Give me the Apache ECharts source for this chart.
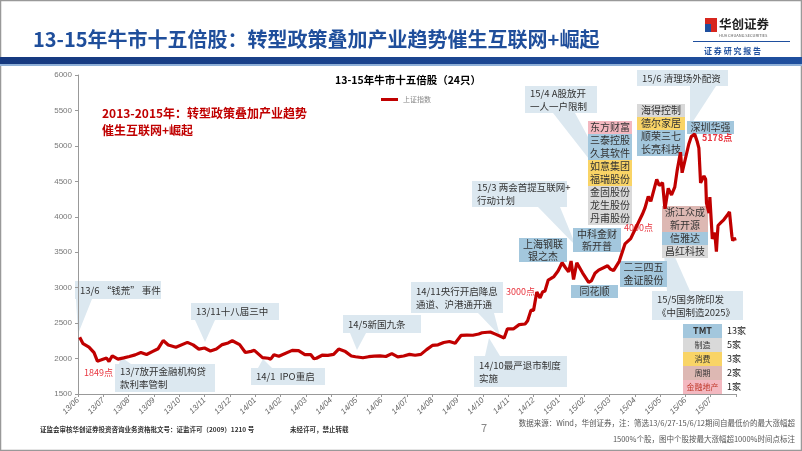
<!DOCTYPE html>
<html>
<head>
<meta charset="utf-8">
<script src="https://cdn.jsdelivr.net/npm/echarts@6/dist/echarts.min.js"></script>
<style>
html, body { margin: 0; padding: 0; background: #fff; }
#main { width: 802px; height: 451px; }
</style>
</head>
<body>
<div id="main"></div>
<script>
// 上证指数（读自原图，约为周度）
const dates = [
  '2013-06-03','2013-06-07','2013-06-14','2013-06-20','2013-06-24','2013-06-25','2013-06-28',
  '2013-07-05','2013-07-08','2013-07-12','2013-07-19','2013-07-26','2013-08-02','2013-08-09',
  '2013-08-16','2013-08-23','2013-08-30','2013-09-06','2013-09-12','2013-09-18','2013-09-27',
  '2013-10-11','2013-10-18','2013-10-25','2013-11-01','2013-11-08','2013-11-15','2013-11-22',
  '2013-11-29','2013-12-04','2013-12-13','2013-12-20','2013-12-27','2013-12-31',
  '2014-01-10','2014-01-17','2014-01-20','2014-01-24','2014-01-30','2014-02-14','2014-02-21',
  '2014-02-28','2014-03-07','2014-03-11','2014-03-14','2014-03-21','2014-03-28','2014-04-04',
  '2014-04-10','2014-04-18','2014-04-25','2014-04-30','2014-05-09','2014-05-16','2014-05-23',
  '2014-05-30','2014-06-06','2014-06-13','2014-06-20','2014-06-27','2014-07-04','2014-07-11',
  '2014-07-18','2014-07-25','2014-08-01','2014-08-08','2014-08-15','2014-08-22','2014-08-29',
  '2014-09-05','2014-09-12','2014-09-19','2014-09-26','2014-09-30','2014-10-10','2014-10-17',
  '2014-10-27','2014-10-31','2014-11-07','2014-11-14','2014-11-21','2014-11-24','2014-11-28',
  '2014-12-01','2014-12-05','2014-12-09','2014-12-12','2014-12-15','2014-12-19','2014-12-22',
  '2014-12-26','2014-12-31',
  '2015-01-05','2015-01-09','2015-01-13','2015-01-16','2015-01-19','2015-01-23','2015-01-30',
  '2015-02-06','2015-02-09','2015-02-13','2015-02-17','2015-02-27','2015-03-02','2015-03-06',
  '2015-03-13','2015-03-20','2015-03-27','2015-04-03','2015-04-10','2015-04-13','2015-04-17',
  '2015-04-20','2015-04-24','2015-04-27','2015-04-30','2015-05-04','2015-05-07','2015-05-11',
  '2015-05-15','2015-05-19','2015-05-22','2015-05-26','2015-05-28','2015-05-29','2015-06-05',
  '2015-06-08','2015-06-12','2015-06-15','2015-06-17','2015-06-19','2015-06-23','2015-06-25',
  '2015-06-26','2015-06-29','2015-06-30','2015-07-03','2015-07-06','2015-07-08','2015-07-09',
  '2015-07-10','2015-07-14','2015-07-17','2015-07-21','2015-07-24','2015-07-27','2015-07-28',
  '2015-07-30','2015-07-31'
];
const sseIndex = [
  2300,2210,2162,2084,1963,1959,1979,
  2007,1958,2039,1992,2010,2029,2052,
  2085,2057,2098,2139,2255,2191,2160,
  2228,2193,2133,2149,2106,2135,2197,
  2220,2251,2196,2085,2101,2116,
  2013,2004,1992,2054,2033,2115,2113,
  2056,2057,1997,2004,2047,2046,2058,
  2134,2098,2036,2026,2011,2026,2034,
  2039,2029,2070,2024,2036,2059,2046,
  2059,2126,2185,2194,2226,2240,2217,
  2326,2331,2329,2347,2364,2375,2341,
  2290,2420,2418,2478,2487,2532,2683,
  2680,2938,2856,2938,2953,3108,3128,
  3157,3235,
  3351,3285,3223,3376,3116,3351,3210,
  3076,3095,3203,3247,3310,3263,3241,
  3372,3617,3691,3863,4035,4121,4287,
  4217,4394,4527,4442,4480,4112,4401,
  4308,4418,4658,4911,4621,4612,5023,
  5131,5166,5062,4967,4478,4576,4529,
  4193,4053,4277,3687,3776,3507,3709,
  3877,3924,3957,4017,4070,3725,3663,
  3705,3664
];
const monthLabels = [
  '13/06','13/07','13/08','13/09','13/10','13/11','13/12',
  '14/01','14/02','14/03','14/04','14/05','14/06','14/07','14/08','14/09','14/10','14/11','14/12',
  '15/01','15/02','15/03','15/04','15/05','15/06','15/07'
];
const sectors = ['TMT', '制造', '消费', '周期', '金融地产'];
const sectorCounts = [13, 5, 3, 2, 1];

// 配色
const sectorColors = {
  'TMT': '#A3C7DD', '制造': '#D9D9D9', '消费': '#F9D466', '周期': '#DDB8B3', '金融地产': '#F3B8C0'
};
const FONT = 'Noto Sans CJK SC';
const CALLOUT = '#DCE8F0';

// 日期 -> 距 2013/06/01 的月数
function monthIndex(d) {
  const p = d.split('-').map(Number);
  const dim = new Date(p[0], p[1], 0).getDate();
  return (p[0] - 2013) * 12 + (p[1] - 6) + (p[2] - 1) / dim;
}

const g = [];
function txt(x, y, text, o) {
  g.push({
    type: 'text', x: x, y: y, z: (o && o.z) || 1,
    style: Object.assign({
      text: text, fill: '#333', fontSize: 10, fontFamily: FONT,
      align: 'left', verticalAlign: 'middle'
    }, o || {})
  });
}
function rect(x, y, w, h, fill, z) {
  g.push({ type: 'rect', z: z || 0, shape: { x: x, y: y, width: w, height: h }, style: { fill: fill } });
}
function tri(points) {
  g.push({ type: 'polygon', z: 0, shape: { points: points }, style: { fill: CALLOUT } });
}
function callout(x, y, w, h, text, pts) {
  if (pts) tri(pts);
  rect(x, y, w, h, CALLOUT);
  txt(x + 5, y + h / 2, text, { fontSize: 9.5, lineHeight: 13, fill: '#333' });
}
function stock(x, y, w, h, name, sector) {
  rect(x, y, w, h, sectorColors[sector], 1);
  txt(x + w / 2, y + h / 2, name, { align: 'center', fontSize: 10, fill: '#333', z: 2 });
}

// 边框、顶部标题栏
g.push({ type: 'rect', z: 0, shape: { x: 0.5, y: 0.5, width: 801, height: 450 },
  style: { fill: 'none', stroke: '#999', lineWidth: 1.5 } });
g.push({ type: 'rect', z: 0, shape: { x: 0, y: 57, width: 802, height: 7 },
  style: { fill: new echarts.graphic.LinearGradient(0, 0, 1, 0, [
    { offset: 0, color: '#16397f' }, { offset: 1, color: '#1f4f9e' }]) } });
rect(0, 64, 802, 2, '#8fb0d8');

// logo
rect(705, 18, 12, 14, '#d7261e');
g.push({ type: 'polygon', z: 1, shape: { points: [[705, 24], [711, 24], [711, 32], [705, 32]] }, style: { fill: '#1f4f9e' } });
txt(719, 24, '华创证券', { fontSize: 12.5, fontWeight: 'bold', fill: '#222' });
txt(719, 35, 'HUA CHUANG SECURITIES', { fontSize: 4, fill: '#555' });
rect(693, 41, 97, 1, '#1f4f9e');
txt(704, 51, '证 券 研 究 报 告', { fontSize: 8, fontWeight: 'bold', fill: '#1f4f9e' });

// 红色说明文字
txt(102, 113, '2013-2015年：转型政策叠加产业趋势', { fontSize: 12, fontWeight: 'bold', fill: '#C00000' });
txt(102, 130, '催生互联网+崛起', { fontSize: 12, fontWeight: 'bold', fill: '#C00000' });

// 事件标注
callout(75, 281, 86, 18, '13/6 “钱荒” 事件', [[76, 299], [92, 299], [78, 334]]);
callout(115, 364, 100, 28, '13/7放开金融机构贷\n款利率管制', [[119, 364], [131, 364], [121, 357]]);
callout(191, 303, 88, 17, '13/11十八届三中', [[195, 320], [215, 320], [205, 342]]);
callout(251, 368, 74, 17, '14/1  IPO重启', [[258, 368], [272, 368], [263, 359]]);
callout(343, 315, 78, 18, '14/5新国九条', [[350, 333], [366, 333], [357, 350]]);
callout(411, 282, 92, 31, '14/11央行开启降息\n通道、沪港通开通', [[478, 313], [494, 313], [500, 336]]);
callout(474, 356, 93, 31, '14/10最严退市制度\n实施', [[485, 356], [500, 356], [489, 338]]);
callout(472, 181, 95, 26, '15/3 两会首提互联网+\n行动计划', [[538, 207], [560, 207], [576, 246]]);
callout(525, 86, 72, 27, '15/4 A股放开\n一人一户限制', [[553, 113], [575, 113], [625, 205]]);
callout(637, 70, 91, 16, '15/6 清理场外配资', [[690, 86], [716, 86], [690, 126]]);
callout(652, 291, 91, 29, '15/5国务院印发\n《中国制造2025》', [[667, 291], [690, 291], [662, 228]]);

// 十五倍股
const colA = [['东方财富', '金融地产'], ['三泰控股', 'TMT'], ['久其软件', 'TMT'], ['如意集团', '消费'],
  ['福瑞股份', '消费'], ['金固股份', '制造'], ['龙生股份', '制造'], ['丹甫股份', '制造']];
colA.forEach((s, i) => stock(588, 121 + i * 13, 44, 13, s[0], s[1]));
const colB = [['海得控制', '制造'], ['德尔家居', '消费'], ['顺荣三七', 'TMT'], ['长亮科技', 'TMT']];
colB.forEach((s, i) => stock(637, 104 + i * 13, 48, 13, s[0], s[1]));
stock(687, 121, 47, 13, '深圳华强', 'TMT');
stock(573, 228, 48, 12, '中科金财', 'TMT');
stock(573, 240, 48, 12, '新开普', 'TMT');
stock(519, 238, 48, 12, '上海钢联', 'TMT');
stock(519, 250, 48, 12, '银之杰', 'TMT');
stock(571, 285, 47, 13, '同花顺', 'TMT');
stock(620, 261, 47, 13, '二三四五', 'TMT');
stock(620, 274, 47, 13, '金证股份', 'TMT');
const colC = [['浙江众成', '周期'], ['新开源', '周期'], ['信雅达', 'TMT'], ['昌红科技', '制造']];
colC.forEach((s, i) => stock(662, 206 + i * 13, 46, 13, s[0], s[1]));

// 点位标注
const red = '#E8353F';
txt(84, 373, '1849点', { fontSize: 9, fill: red });
txt(506, 292, '3000点', { fontSize: 9, fill: red });
txt(624, 228, '4000点', { fontSize: 9, fill: red });
txt(702, 138, '5178点', { fontSize: 9, fill: red, fontWeight: 'bold' });

// 行业统计
sectors.forEach((s, i) => {
  rect(683, 324 + i * 14, 39, 14, sectorColors[s]);
  txt(702.5, 331 + i * 14, s, { align: 'center', fontSize: s === 'TMT' ? 9 : 8,
    fontWeight: s === 'TMT' ? 'bold' : 'normal', fill: s === '金融地产' ? '#c0392b' : '#333' });
  txt(727, 331 + i * 14, sectorCounts[i] + '家', { fontSize: 9, fill: '#222' });
});

// 页脚
txt(40, 430, '证监会审核华创证券投资咨询业务资格批文号：证监许可（2009）1210 号', { fontSize: 6.5, fontWeight: 'bold', fill: '#333' });
txt(290, 430, '未经许可，禁止转载', { fontSize: 6.5, fontWeight: 'bold', fill: '#333' });
txt(481, 428, '7', { fontSize: 11, fill: '#888' });
txt(795, 423, '数据来源：Wind，华创证券，注：筛选13/6/27-15/6/12期间自最低价的最大涨幅超', { fontSize: 7.5, fill: '#555', align: 'right' });
txt(795, 439, '1500%个股，图中个股按最大涨幅超1000%时间点标注', { fontSize: 7.5, fill: '#555', align: 'right' });

const chart = echarts.init(document.getElementById('main'));
chart.setOption({
  animation: false,
  textStyle: { fontFamily: FONT },
  title: [
    { text: '13-15年牛市十五倍股：转型政策叠加产业趋势催生互联网+崛起', left: 28, top: 24,
      textStyle: { color: '#1F4E9B', fontSize: 20, fontWeight: 'bold', fontFamily: FONT } },
    { text: '13-15年牛市十五倍股（24只）', left: 330, top: 70,
      textStyle: { color: '#000', fontSize: 10.5, fontWeight: 'bold', fontFamily: FONT } }
  ],
  legend: {
    data: ['上证指数'], left: 376, top: 91, icon: 'rect', itemWidth: 17, itemHeight: 3, itemGap: 4,
    textStyle: { fontSize: 7, color: '#888' }
  },
  grid: { left: 78, right: 66, top: 75, bottom: 57 },
  xAxis: {
    type: 'value', min: 0, max: 26, interval: 1,
    axisLine: { lineStyle: { color: '#999' } },
    axisTick: { length: 3, lineStyle: { color: '#999' } },
    splitLine: { show: false },
    axisLabel: {
      rotate: 45, fontSize: 8, color: '#666', margin: 5, fontFamily: 'Liberation Sans', fontStyle: 'italic',
      formatter: v => monthLabels[v] || ''
    }
  },
  yAxis: {
    type: 'value', min: 1500, max: 6000, interval: 500,
    axisLine: { show: true, lineStyle: { color: '#999' } },
    axisTick: { show: true, length: 3, lineStyle: { color: '#999' } },
    splitLine: { show: false },
    axisLabel: { fontSize: 8, color: '#777', margin: 6, fontFamily: 'Liberation Sans', formatter: v => String(v) }
  },
  series: [{
    name: '上证指数', type: 'line', showSymbol: false, z: 5,
    lineStyle: { width: 3.2, color: '#C00000' }, itemStyle: { color: '#C00000' },
    data: dates.map((d, i) => [monthIndex(d), sseIndex[i]])
  }],
  graphic: g
});
</script>
</body>
</html>
